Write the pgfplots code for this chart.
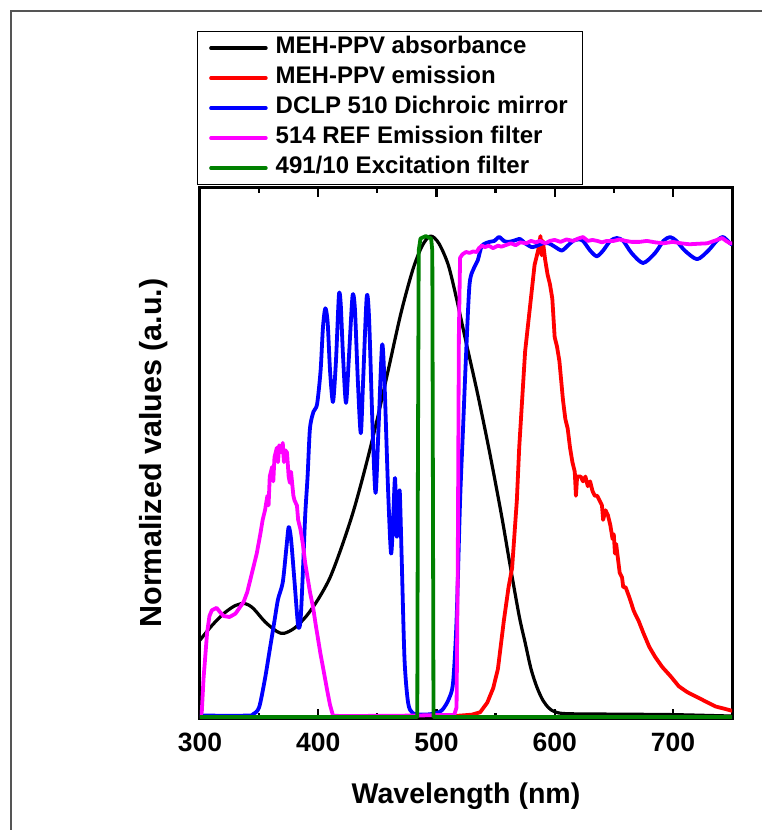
\documentclass[border=0pt]{standalone}
\usepackage{fontspec}
\setmainfont{Liberation Sans}
\usepackage{pgfplots}
\pgfplotsset{compat=1.18}
\definecolor{dgreen}{RGB}{0,128,0}
\definecolor{mag}{RGB}{255,0,255}
\definecolor{framegray}{RGB}{85,85,85}
\begin{document}
\begin{tikzpicture}
\path[use as bounding box] (-200pt,-112pt) rectangle (562pt,718pt);
\draw[line width=2pt, framegray] (-189pt,-120pt) -- (-189pt,707pt) -- (570pt,707pt);
\begin{axis}[
  scale only axis, width=532pt, height=530pt,
  xmin=300, xmax=750, ymin=-0.002, ymax=1.1,
  axis line style={line width=3pt},
  xtick={300,400,500,600,700},
  minor xtick={350,450,550,650,750},
  ytick=\empty,
  tick align=inside,
  major tick length=9pt, minor tick length=5pt,
  every tick/.style={line width=2.2pt, black},
  /pgf/number format/assume math mode=true,
  xticklabel style={font=\fontsize{26.5}{30}\selectfont\bfseries, inner sep=0pt, yshift=-15pt},
  xlabel={Wavelength (nm)},
  xlabel style={font=\fontsize{28.5}{32}\selectfont\bfseries, at={(axis description cs:0.5,-0.147)}, anchor=center},
  ylabel={Normalized values (a.u.)},
  ylabel style={font=\fontsize{30.5}{34}\selectfont\bfseries, at={(axis description cs:-0.087,0.5)}, anchor=center},
  legend style={at={(axis description cs:-0.006,1)}, anchor=south west, yshift=3pt,
    draw=black, line width=0.8pt, font=\fontsize{24}{28}\selectfont\bfseries,
    row sep=3pt, column sep=5pt, inner xsep=12pt, inner ysep=3pt,
    nodes={text height=16pt, text depth=5pt, inner sep=3pt}},
  legend cell align=left,
  legend image code/.code={\draw[line width=3.5pt] (0pt,0pt) -- (55pt,0pt);},
  every axis plot/.append style={line join=round, line cap=round},
]
\addplot[black, line width=3.2pt, smooth, tension=0.5] coordinates {
(300,0.16)(310,0.19)(320,0.215)(330,0.232)(338,0.236)(345,0.226)(355,0.198)(365,0.178)(371,0.174)
(380,0.185)(390,0.21)(400,0.245)(410,0.29)(420,0.355)(430,0.43)(440,0.52)(450,0.62)(460,0.73)
(470,0.84)(480,0.93)(488,0.98)(495,1.0)(502,0.985)(510,0.94)(517,0.87)(525,0.78)(535,0.67)
(545,0.55)(555,0.42)(562,0.32)(570,0.21)(575,0.155)(580,0.1)(585,0.062)(590,0.035)(595,0.019)
(600,0.011)(610,0.007)(650,0.006)(700,0.005)(750,0.002)};
\addlegendentry{MEH-PPV absorbance}
\addplot[red, line width=3.8pt] coordinates {
(500,0.0)(520,0.003)(530,0.005)(537,0.01)(543,0.03)(548,0.06)(552,0.1)(557,0.2)(561,0.27)(564,0.31)
(566,0.38)(568,0.45)(570,0.56)(572,0.64)(575,0.76)(579,0.85)(583,0.94)(586,0.97)(588,1.0)(589,0.96)
(590,0.99)(592,0.95)(594,0.92)(596,0.9)(598,0.87)(600,0.79)(602,0.77)(604,0.74)(607,0.66)(609,0.62)
(611,0.6)(613,0.56)(615,0.53)(617,0.51)(618,0.46)(619,0.5)(622,0.5)(624,0.49)(626,0.5)(628,0.48)
(630,0.49)(632,0.47)(634,0.46)(636,0.46)(638,0.45)(640,0.44)(641,0.41)(643,0.43)(645,0.42)(647,0.4)
(649,0.37)(650,0.38)(651,0.34)(652,0.36)(654,0.32)(655,0.3)(657,0.29)(658,0.27)(660,0.27)(663,0.25)
(667,0.22)(671,0.2)(675,0.175)(680,0.146)(685,0.125)(691,0.104)(698,0.085)(705,0.064)(712,0.052)
(720,0.042)(728,0.032)(736,0.022)(744,0.017)(750,0.013)};
\addlegendentry{MEH-PPV emission}
\addplot[blue, line width=3.8pt, smooth, tension=0.45] coordinates {
(300,0.003)(340,0.003)(345,0.006)(350,0.02)(355,0.08)(359,0.14)(363,0.2)(366,0.245)(370,0.28)
(373,0.35)(375,0.395)(377,0.37)(380,0.28)(383,0.19)(385,0.2)(387,0.3)(389,0.42)(391,0.5)(393,0.6)
(396,0.635)(399,0.65)(402,0.72)(404,0.81)(406,0.85)(408,0.82)(410,0.72)(412.5,0.655)(415,0.74)
(417.5,0.877)(419,0.86)(421,0.75)(423.5,0.653)(426,0.75)(429,0.875)(431,0.85)(433.5,0.7)(436,0.59)
(438,0.7)(441,0.873)(443,0.83)(446,0.6)(448.5,0.466)(451,0.6)(454,0.773)(456,0.7)(459,0.478)
(461.6,0.34)(463.5,0.42)(465,0.497)(466.4,0.375)(468,0.44)(469,0.468)(470.6,0.33)(473,0.12)
(476,0.03)(480,0.008)(490,0.005)(500,0.008)(505,0.015)(510,0.035)(514,0.07)(517,0.2)(520,0.45)
(522.5,0.6)(525,0.75)(528,0.9)(532,0.935)(535,0.95)(538.5,0.98)(545,0.988)(549,0.99)(553,0.998)
(557,0.99)(560.7,0.988)(565,0.99)(570.7,0.994)(575,0.985)(580.7,0.977)(585,0.98)(590,0.985)
(595,0.985)(600,0.978)(606,0.97)(611,0.98)(615.6,0.99)(620,0.993)(624,0.99)(630,0.97)(635.6,0.958)
(641,0.97)(647,0.99)(652.6,0.996)(658,0.99)(665,0.965)(674.8,0.944)(685,0.965)(692,0.99)(697.6,0.998)
(703,0.99)(710,0.97)(720.5,0.952)(730,0.97)(737,0.99)(742.5,0.998)(748.4,0.985)(750,0.983)};
\addlegendentry{DCLP 510 Dichroic mirror}
\addplot[mag, line width=3.8pt] coordinates {
(300,0.0)(301.5,0.01)(303,0.08)(306,0.175)(308,0.21)(310,0.222)(314,0.227)(317,0.218)(320,0.21)
(325,0.208)(330,0.215)(334,0.229)(337,0.24)(340,0.26)(342,0.28)(345,0.31)(348,0.34)(351,0.38)
(353,0.41)(355,0.43)(357,0.46)(358,0.44)(359,0.5)(361,0.52)(362,0.49)(363,0.54)(365,0.56)(366,0.53)
(367,0.565)(369,0.55)(370,0.57)(371,0.53)(372,0.555)(373.6,0.55)(375,0.5)(376,0.487)(377,0.51)
(379,0.46)(380,0.45)(382,0.44)(383,0.41)(385,0.39)(387,0.36)(389,0.32)(391,0.29)(393,0.26)
(395.6,0.229)(398,0.19)(400,0.16)(402,0.13)(404,0.104)(406,0.077)(408,0.05)(410,0.025)(412.5,0.003)
(420,0.002)(480,0.003)(500,0.004)(515,0.004)(517,0.02)(518,0.3)(519,0.8)(520,0.955)(522,0.962)
(525,0.967)(528,0.965)(531,0.968)(534,0.967)(536,0.975)(538.5,0.98)(541,0.977)(544,0.98)(548,0.975)
(552,0.98)(555,0.978)(559.5,0.982)(563,0.985)(567,0.981)(571,0.987)(576,0.985)(580,0.99)(584,0.987)
(587.6,0.99)(592,0.985)(596,0.99)(600,0.992)(605,0.988)(610,0.993)(615.6,0.99)(620,0.995)(624,0.998)
(628,0.99)(632,0.992)(636,0.99)(640,0.987)(644,0.99)(650,0.99)(655,0.993)(660,0.99)(665,0.988)
(672,0.988)(678,0.99)(685,0.987)(692,0.985)(700,0.988)(707,0.985)(714,0.983)(721,0.984)(729,0.985)
(735,0.99)(741.6,0.996)(745,0.99)(748.4,0.985)(750,0.985)};
\addlegendentry{514 REF Emission filter}
\addplot[dgreen, line width=3.8pt] coordinates {
(300,0)(483.8,0)(484.3,0.5)(485,0.97)(486.5,0.995)(491,1.0)(495.5,0.995)(496.5,0.97)(497,0.5)(497.5,0)(750,0)};
\addlegendentry{491/10 Excitation filter}
\end{axis}
\end{tikzpicture}
\end{document}
